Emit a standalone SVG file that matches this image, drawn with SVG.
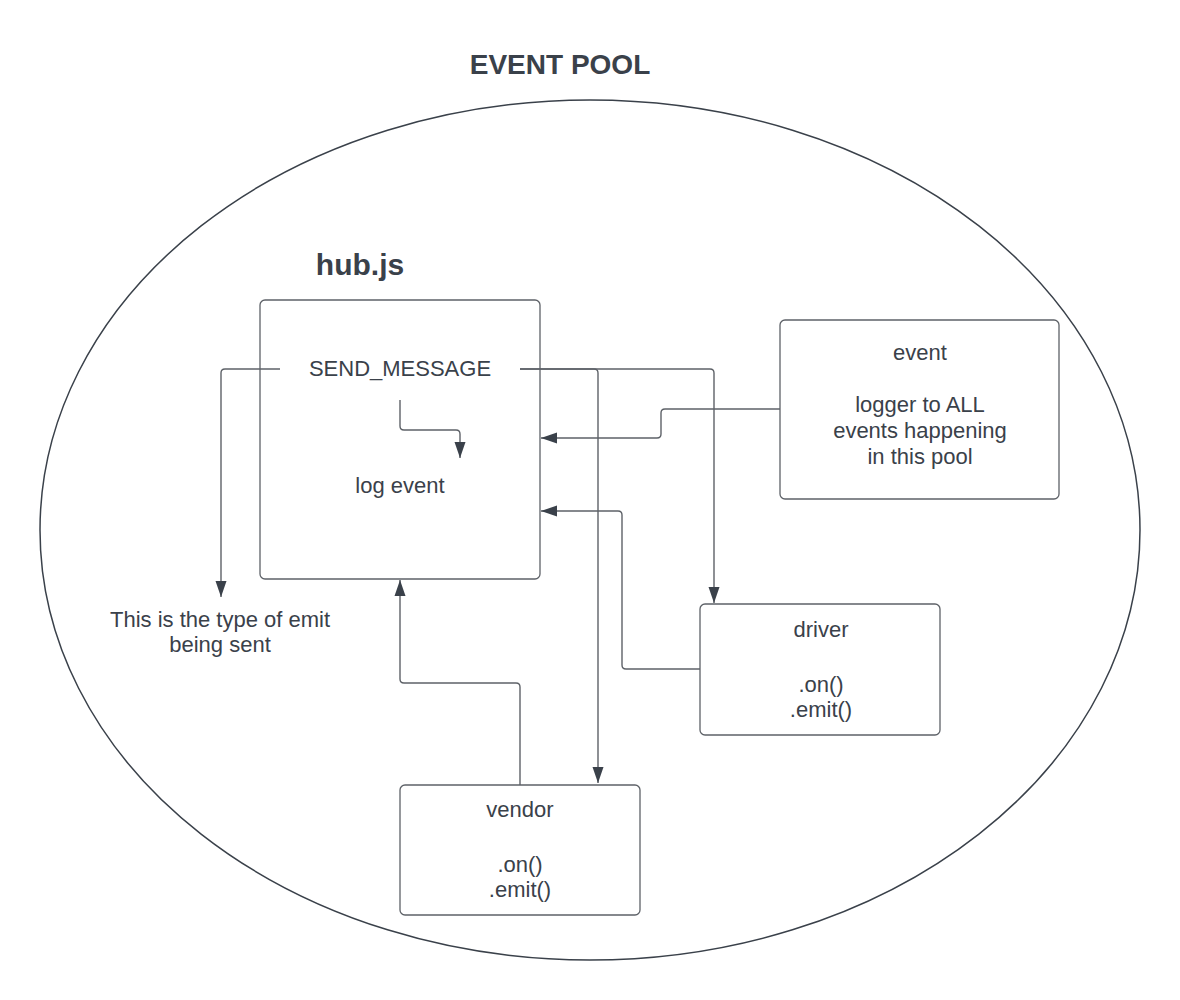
<svg xmlns="http://www.w3.org/2000/svg" width="1180" height="1000" viewBox="0 0 1180 1000">
<defs>
<marker id="arr" markerUnits="userSpaceOnUse" markerWidth="16" markerHeight="12" refX="16" refY="6" orient="auto">
<path d="M0,0.5 L16,6 L0,11.5 z" fill="#3a414a"/>
</marker>
<style>
.t{font-family:"Liberation Sans",Arial,sans-serif;font-size:22px;fill:#3a414a;text-anchor:middle}
.b{font-family:"Liberation Sans",Arial,sans-serif;font-weight:bold;fill:#3a414a;text-anchor:middle}
.box{fill:#fff;stroke:#5e6268;stroke-width:1.3}
.c{fill:none;stroke:#5e6268;stroke-width:1.4}
</style>
</defs>
<rect width="1180" height="1000" fill="#fff"/>
<g id="pool">
<ellipse cx="590" cy="530" rx="550" ry="430" fill="none" stroke="#3a414a" stroke-width="1.5"/>
<text class="b" x="560" y="74" font-size="28">EVENT POOL</text>
</g>
<g id="hub">
<text class="b" x="360" y="275" font-size="30">hub.js</text>
<rect class="box" x="260" y="300" width="280" height="279" rx="5"/>
<text class="t" x="400" y="376">SEND_MESSAGE</text>
<text class="t" x="400" y="493">log event</text>
</g>
<g id="event">
<rect class="box" x="780" y="320" width="279" height="179" rx="5"/>
<text class="t" x="920" y="360">event</text>
<text class="t" x="920" y="412">logger to ALL</text>
<text class="t" x="920" y="438">events happening</text>
<text class="t" x="920" y="464">in this pool</text>
</g>
<g id="driver">
<rect class="box" x="700" y="604" width="240" height="131" rx="5"/>
<text class="t" x="821" y="637">driver</text>
<text class="t" x="821" y="692">.on()</text>
<text class="t" x="821" y="717">.emit()</text>
</g>
<g id="vendor">
<rect class="box" x="400" y="785" width="240" height="130" rx="5"/>
<text class="t" x="520" y="817">vendor</text>
<text class="t" x="520" y="872">.on()</text>
<text class="t" x="520" y="897">.emit()</text>
</g>
<g id="note">
<text class="t" x="220" y="627">This is the type of emit</text>
<text class="t" x="220" y="652">being sent</text>
</g>
<g id="connectors">
<path class="c" d="M280,369 H225 Q221,369 221,373 V597" marker-end="url(#arr)"/>
<path class="c" d="M520,369 H594 Q598,369 598,373 V783" marker-end="url(#arr)"/>
<path class="c" d="M520,369 H710 Q714,369 714,373 V603" marker-end="url(#arr)"/>
<path class="c" d="M400,400 V426 Q400,430 404,430 H456 Q460,430 460,434 V458" marker-end="url(#arr)"/>
<path class="c" d="M780,409 H665 Q661,409 661,413 V434 Q661,438 657,438 H541" marker-end="url(#arr)"/>
<path class="c" d="M700,669 H626 Q622,669 622,665 V515 Q622,511 618,511 H541" marker-end="url(#arr)"/>
<path class="c" d="M520,785 V687 Q520,683 516,683 H404 Q400,683 400,679 V580" marker-end="url(#arr)"/>
</g>
</svg>
